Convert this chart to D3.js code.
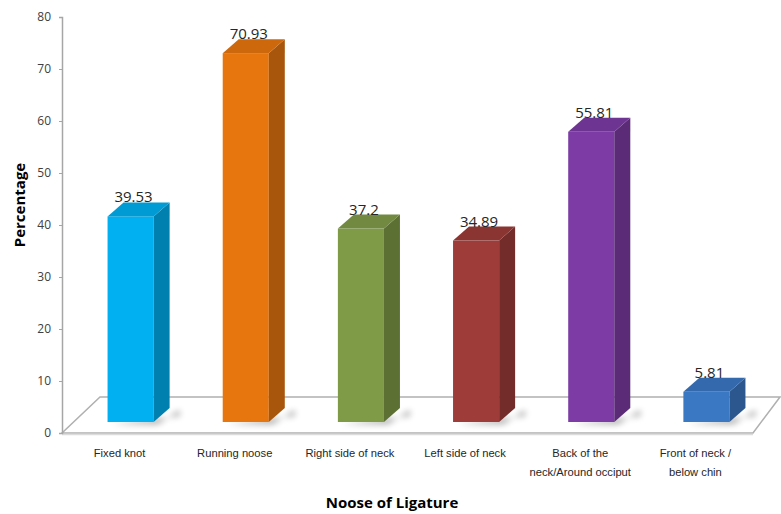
<!DOCTYPE html>
<html>
<head>
<meta charset="utf-8">
<script src="https://cdn.jsdelivr.net/npm/d3@7"></script>
<style>
  body { margin: 0; background: #fff; }
  svg { display: block; }
</style>
</head>
<body>
<script>
// chart data
var categories = ["Fixed knot", "Running noose", "Right side of neck", "Left side of neck",
                  "Back of the\nneck/Around occiput", "Front of neck /\nbelow chin"];
var values = [39.53, 70.93, 37.2, 34.89, 55.81, 5.81];
var valueLabels = ["39.53", "70.93", "37.2", "34.89", "55.81", "5.81"];
var colors = ["#00b0f0", "#e8760f", "#809b48", "#9e3c39", "#7d3ba5", "#3b78c4"];
var yTicks = [0, 10, 20, 30, 40, 50, 60, 70, 80];

var width = 781;
var height = 514;
var plotLeft = 62, plotRight = 753, plotTop = 17, plotBottom = 433;
var floorDx = 38, floorDy = -36;   // depth of the floor
var barDx = 11, barDy = -11;       // bar front offset inside the floor
var depthX = 16, depthY = -14;     // bar depth

var svg = d3.select("body").append("svg")
  .attr("width", width)
  .attr("height", height);

var defs = svg.append("defs");
defs.append("filter").attr("id", "blur")
  .attr("x", "-50%").attr("y", "-50%").attr("width", "200%").attr("height", "200%")
  .append("feGaussianBlur").attr("stdDeviation", 3);

var x = d3.scaleBand()
  .domain(categories)
  .range([plotLeft, plotRight])
  .paddingInner(0.6)
  .paddingOuter(0.3);

var y = d3.scaleLinear()
  .domain([0, 80])
  .range([plotBottom, plotTop]);

function pts(arr) { return arr.map(function(p){ return p[0] + "," + p[1]; }).join(" "); }

// floor
svg.append("polygon")
  .attr("points", pts([[plotLeft, plotBottom], [plotRight, plotBottom],
                       [plotRight + 27, plotBottom + floorDy], [plotLeft + floorDx, plotBottom + floorDy]]))
  .attr("fill", "#fff")
  .attr("stroke", "#b0b0b0")
  .attr("stroke-width", 1.5);
svg.append("line")
  .attr("x1", plotLeft).attr("x2", plotRight)
  .attr("y1", plotBottom + 1.5).attr("y2", plotBottom + 1.5)
  .attr("stroke", "#dcdcdc").attr("stroke-width", 1.5);

// y axis
var yAxis = svg.append("g")
  .attr("transform", "translate(" + plotLeft + ",0)")
  .call(d3.axisLeft(y).tickValues(yTicks).tickSize(3).tickPadding(8));
yAxis.select(".domain").attr("stroke", "#a6a6a6").attr("stroke-width", 1.5);
yAxis.selectAll(".tick line").attr("stroke", "#a6a6a6");
yAxis.selectAll(".tick text")
  .attr("font-family", "Open Sans, sans-serif")
  .attr("font-size", 12)
  .attr("fill", "#404040");

// bars
var bars = svg.selectAll(".bar")
  .data(values)
  .enter().append("g")
  .attr("class", "bar");

bars.each(function(d, i) {
  var g = d3.select(this);
  var x0 = x(categories[i]) + barDx;
  var x1 = x0 + x.bandwidth();
  var yb = y(0) + barDy;
  var yt = y(d) + barDy;
  var c = d3.color(colors[i]);

  // soft shadow on the floor
  g.append("polygon")
    .attr("points", pts([[x0 + 4, yb + 2], [x1 + 4, yb + 2], [x1 + depthX + 10, yb + depthY + 2], [x1 + depthX + 10, yb - 6]]))
    .attr("fill", "#000").attr("opacity", 0.35)
    .attr("filter", "url(#blur)");

  g.append("rect")
    .attr("x", x0).attr("y", yt)
    .attr("width", x1 - x0).attr("height", yb - yt)
    .attr("fill", c.formatHex());
  g.append("polygon")
    .attr("points", pts([[x1, yt], [x1 + depthX, yt + depthY], [x1 + depthX, yb + depthY], [x1, yb]]))
    .attr("fill", c.darker(0.9).formatHex());
  g.append("polygon")
    .attr("points", pts([[x0, yt], [x0 + depthX, yt + depthY], [x1 + depthX, yt + depthY], [x1, yt]]))
    .attr("fill", c.darker(0.35).formatHex());

  g.append("text")
    .attr("x", (x0 + x1) / 2 + 3)
    .attr("y", yt + depthY)
    .attr("text-anchor", "middle")
    .attr("font-family", "Open Sans, sans-serif")
    .attr("font-size", 15)
    .attr("fill", "#262626")
    .text(valueLabels[i]);
});

// category labels
var catLabels = svg.selectAll(".cat")
  .data(categories)
  .enter().append("text")
  .attr("class", "cat")
  .attr("x", function(d){ return x(d) + x.bandwidth() / 2; })
  .attr("y", 457)
  .attr("text-anchor", "middle")
  .attr("font-family", "Liberation Sans Narrow, Liberation Sans, sans-serif")
  .attr("font-size", 11.2)
  .attr("fill", "#262626");
catLabels.each(function(d) {
  var t = d3.select(this);
  d.split("\n").forEach(function(line, k) {
    t.append("tspan")
      .attr("x", t.attr("x"))
      .attr("dy", k === 0 ? 0 : 19)
      .text(line);
  });
});

// axis titles
svg.append("text")
  .attr("transform", "translate(25,205) rotate(-90)")
  .attr("text-anchor", "middle")
  .attr("font-family", "Open Sans, sans-serif")
  .attr("font-weight", "bold")
  .attr("font-size", 15)
  .attr("fill", "#000")
  .text("Percentage");

svg.append("text")
  .attr("x", 392)
  .attr("y", 508)
  .attr("text-anchor", "middle")
  .attr("font-family", "Open Sans, sans-serif")
  .attr("font-weight", "bold")
  .attr("font-size", 15)
  .attr("fill", "#000")
  .text("Noose of Ligature");
</script>
</body>
</html>
